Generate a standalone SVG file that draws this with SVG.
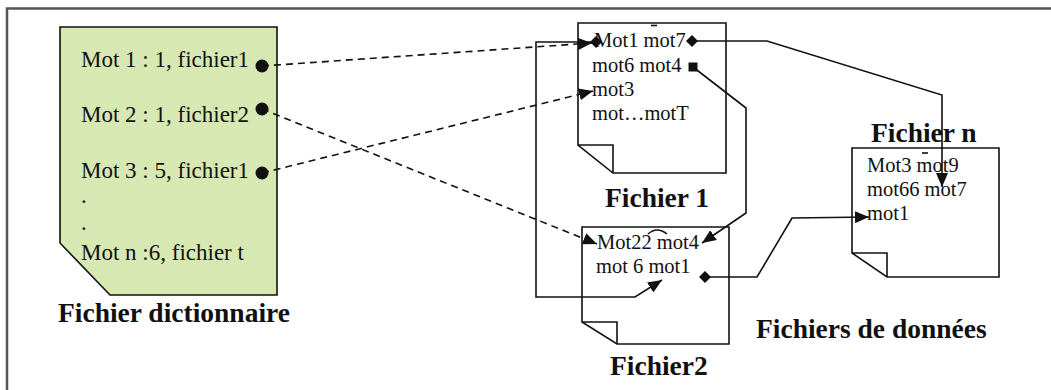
<svg xmlns="http://www.w3.org/2000/svg" width="1051" height="390" viewBox="0 0 1051 390">
<style>
.t{font-family:"Liberation Serif","Times New Roman",serif;fill:#111}
.d{font-size:23px}
.p{font-size:20.5px}
.b{font-size:27.5px;font-weight:bold}
.page{fill:#fff;stroke:#111;stroke-width:1.6}
.fold{fill:none;stroke:#111;stroke-width:1.6}
.c{fill:none;stroke:#111;stroke-width:1.6}
.dash{stroke-dasharray:7 5}
</style>
<defs>
<marker id="arr" markerUnits="userSpaceOnUse" markerWidth="16" markerHeight="12" refX="14" refY="6" orient="auto"><path d="M0,0 L14,6 L0,12 Z" fill="#111"/></marker>
<marker id="dia" markerUnits="userSpaceOnUse" markerWidth="14" markerHeight="14" refX="7" refY="7"><path d="M7,1 L13,7 L7,13 L1,7 Z" fill="#111"/></marker>
<marker id="sq" markerUnits="userSpaceOnUse" markerWidth="10" markerHeight="10" refX="5" refY="5"><rect x="0.5" y="0.5" width="9" height="9" fill="#111"/></marker>
<marker id="dot" markerUnits="userSpaceOnUse" markerWidth="14" markerHeight="14" refX="7" refY="7"><circle cx="7" cy="7" r="6.5" fill="#111"/></marker>
</defs>
<rect width="1051" height="390" fill="#fff"/>
<rect x="7" y="8.5" width="1100" height="500" fill="none" stroke="#555" stroke-width="2.5"/>

<g id="dictionnaire">
<path d="M60,27 H277 V295 H110 L60,243 Z" fill="#d7e8b2" stroke="#111" stroke-width="1.6"/>
<text class="t d" x="81" y="67">Mot 1 : 1, fichier1</text>
<text class="t d" x="81" y="122">Mot 2 : 1, fichier2</text>
<text class="t d" x="81" y="178">Mot 3 : 5, fichier1</text>
<text class="t d" x="81" y="203">.</text>
<text class="t d" x="81" y="230">.</text>
<text class="t d" x="81" y="260">Mot n :6, fichier t</text>
<text class="t b" x="58" y="322">Fichier dictionnaire</text>
</g>

<g id="fichier1">
<path class="page" d="M578,23 H726 V173 H613 L578,145 Z"/>
<path class="fold" d="M578,145 H613 V173"/>
<path class="fold" d="M651,25.5 H657"/>
<text class="t p" x="594" y="47">Mot1 mot7</text>
<text class="t p" x="592" y="72">mot6 mot4</text>
<text class="t p" x="592" y="96">mot3</text>
<text class="t p" x="592" y="120">mot…motT</text>
<text class="t b" x="605" y="207">Fichier 1</text>
</g>

<g id="fichier2">
<path class="page" d="M582,227 H729 V344 H617 L582,322 Z"/>
<path class="fold" d="M582,322 H617 V344"/>
<path class="fold" d="M648,234 Q657,226 667,234" stroke-width="1.2"/>
<text class="t p" x="597" y="249">Mot22 mot4</text>
<text class="t p" x="596" y="273">mot 6 mot1</text>
<text class="t b" x="610" y="375">Fichier2</text>
</g>

<g id="fichiern">
<path class="page" d="M852,148 H999 V277 H887 L852,253 Z"/>
<path class="fold" d="M852,253 H887 V277"/>
<path class="fold" d="M922,153 H928"/>
<text class="t p" x="867" y="172">Mot3 mot9</text>
<text class="t p" x="867" y="196">mot66 mot7</text>
<text class="t p" x="867" y="220">mot1</text>
<text class="t b" x="871" y="142">Fichier n</text>
</g>

<g id="label-donnees">
<text class="t b" x="756" y="338">Fichiers de données</text>
</g>

<g id="connectors">
<path class="c dash" d="M262,66 L592,43" marker-start="url(#dot)" marker-end="url(#arr)"/>
<path class="c dash" d="M262,109 L597,244" marker-start="url(#dot)" marker-end="url(#arr)"/>
<path class="c dash" d="M262,173 L593,91" marker-start="url(#dot)" marker-end="url(#arr)"/>
<path class="c" d="M596,42 H536 V297 H635 L662,280" marker-start="url(#dia)" marker-end="url(#arr)"/>
<path class="c" d="M692,41 H767 L942,95 V187" marker-start="url(#dia)" marker-end="url(#arr)"/>
<path class="c" d="M693,67 L746,108 V213 L702,243" marker-start="url(#sq)" marker-end="url(#arr)"/>
<path class="c" d="M705,277 H757 L792,218 L869,217" marker-start="url(#dia)" marker-end="url(#arr)"/>
</g>
</svg>
